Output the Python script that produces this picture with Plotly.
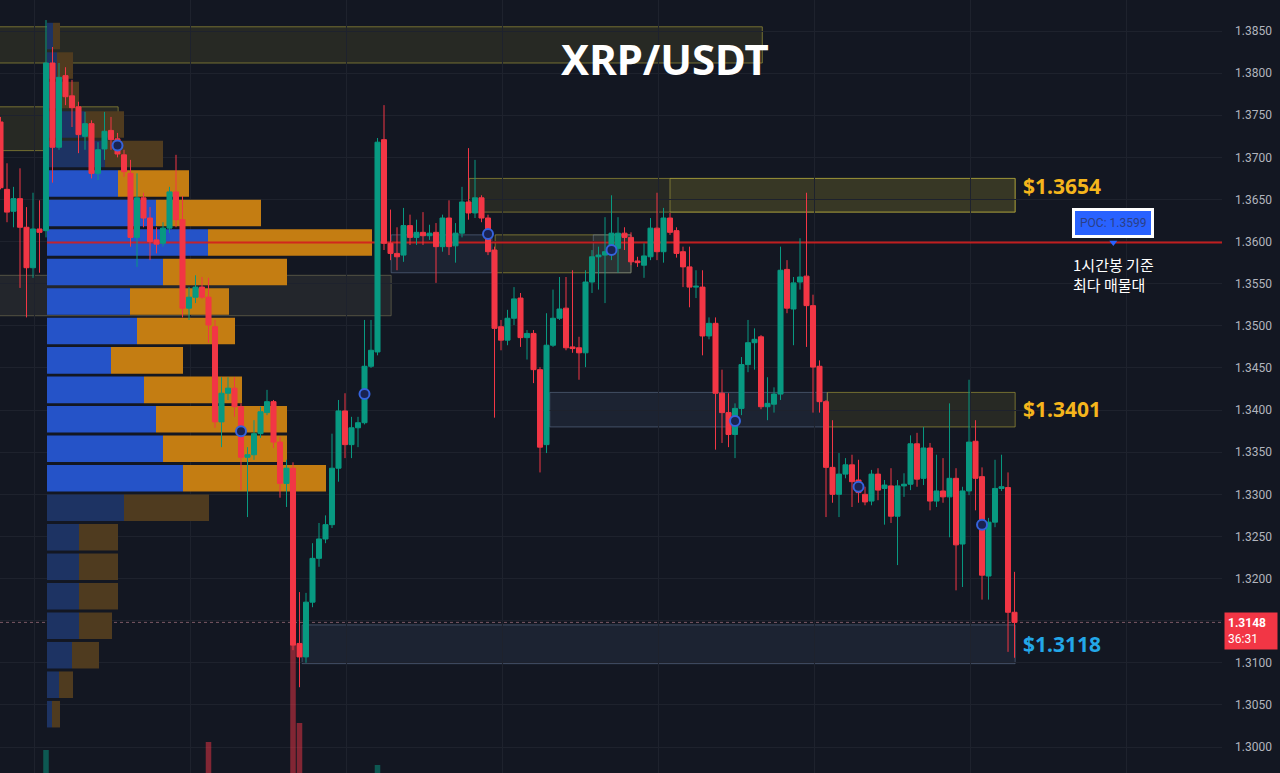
import plotly.graph_objects as go

# ---------------- data ----------------
opens = [1.3742, 1.3662, 1.3636, 1.3651, 1.3617, 1.3569, 1.3615, 1.3613, 1.3812, 1.3712,
         1.3797, 1.3773, 1.3760, 1.3725, 1.3740, 1.3681, 1.3710, 1.3732, 1.3722, 1.3703,
         1.3681, 1.3605, 1.3652, 1.3628, 1.3602, 1.3598, 1.3616, 1.3659, 1.3626, 1.3521,
         1.3534, 1.3546, 1.3534, 1.3499, 1.3386, 1.3420, 1.3426, 1.3404, 1.3344, 1.3347,
         1.3372, 1.3397, 1.3410, 1.3362, 1.3313, 1.3331, 1.3123, 1.3107, 1.3172, 1.3224,
         1.3247, 1.3264, 1.3331, 1.3399, 1.3359, 1.3379, 1.3385, 1.3452, 1.3469, 1.3721,
         1.3598, 1.3586, 1.3584, 1.3619, 1.3605, 1.3611, 1.3607, 1.3611, 1.3594, 1.3628,
         1.3595, 1.3610, 1.3647, 1.3634, 1.3652, 1.3628, 1.3590, 1.3499, 1.3483, 1.3509,
         1.3533, 1.3486, 1.3491, 1.3448, 1.3359, 1.3477, 1.3509, 1.3521, 1.3475, 1.3474,
         1.3468, 1.3552, 1.3582, 1.3584, 1.3590, 1.3592, 1.3610, 1.3605, 1.3577, 1.3572,
         1.3582, 1.3616, 1.3588, 1.3628, 1.3613, 1.3588, 1.3570, 1.3546, 1.3546, 1.3488,
         1.3503, 1.3420, 1.3397, 1.3371, 1.3402, 1.3454, 1.3480, 1.3487, 1.3404, 1.3407,
         1.3419, 1.3567, 1.3520, 1.3552, 1.3559, 1.3524, 1.3452, 1.3410, 1.3332, 1.3300,
         1.3324, 1.3335, 1.3317, 1.3300, 1.3292, 1.3324, 1.3307, 1.3310, 1.3274, 1.3310,
         1.3312, 1.3360, 1.3319, 1.3355, 1.3292, 1.3304, 1.3297, 1.3319, 1.3241, 1.3304,
         1.3363, 1.3321, 1.3203, 1.3267, 1.3307, 1.3308, 1.3160]
highs = [1.3748, 1.3693, 1.3665, 1.3687, 1.3641, 1.3658, 1.3649, 1.3863, 1.3831, 1.3812,
         1.3807, 1.3792, 1.3766, 1.3754, 1.3744, 1.3718, 1.3754, 1.3748, 1.3729, 1.3709,
         1.3697, 1.3681, 1.3658, 1.3641, 1.3617, 1.3623, 1.3665, 1.3703, 1.3654, 1.3546,
         1.3560, 1.3558, 1.3557, 1.3507, 1.3439, 1.3439, 1.3439, 1.3408, 1.3356, 1.3388,
         1.3404, 1.3424, 1.3412, 1.3368, 1.3341, 1.3338, 1.3184, 1.3183, 1.3242, 1.3266,
         1.3275, 1.3372, 1.3412, 1.3420, 1.3392, 1.3392, 1.3507, 1.3507, 1.3723, 1.3762,
         1.3638, 1.3617, 1.3640, 1.3632, 1.3626, 1.3635, 1.3620, 1.3622, 1.3632, 1.3649,
         1.3622, 1.3665, 1.3711, 1.3697, 1.3655, 1.3632, 1.3594, 1.3507, 1.3519, 1.3546,
         1.3539, 1.3495, 1.3495, 1.3451, 1.3515, 1.3543, 1.3558, 1.3558, 1.3566, 1.3487,
         1.3566, 1.3590, 1.3594, 1.3629, 1.3655, 1.3629, 1.3617, 1.3611, 1.3582, 1.3598,
         1.3628, 1.3658, 1.3640, 1.3634, 1.3617, 1.3594, 1.3594, 1.3566, 1.3566, 1.3510,
         1.3510, 1.3448, 1.3420, 1.3408, 1.3463, 1.3507, 1.3497, 1.3489, 1.3439, 1.3427,
         1.3594, 1.3578, 1.3558, 1.3604, 1.3658, 1.3537, 1.3459, 1.3412, 1.3388, 1.3349,
         1.3343, 1.3347, 1.3341, 1.3309, 1.3329, 1.3331, 1.3317, 1.3331, 1.3317, 1.3325,
         1.3370, 1.3373, 1.3380, 1.3361, 1.3347, 1.3343, 1.3408, 1.3331, 1.3309, 1.3436,
         1.3388, 1.3332, 1.3272, 1.3341, 1.3347, 1.3326, 1.3208]
lows = [1.3662, 1.3623, 1.3617, 1.3545, 1.3510, 1.3557, 1.3563, 1.3605, 1.3670, 1.3709,
        1.3762, 1.3736, 1.3705, 1.3709, 1.3675, 1.3673, 1.3697, 1.3709, 1.3700, 1.3677,
        1.3594, 1.3570, 1.3617, 1.3578, 1.3586, 1.3594, 1.3610, 1.3617, 1.3510, 1.3507,
        1.3527, 1.3532, 1.3480, 1.3379, 1.3356, 1.3412, 1.3392, 1.3305, 1.3273, 1.3341,
        1.3367, 1.3394, 1.3355, 1.3296, 1.3285, 1.3115, 1.3071, 1.3100, 1.3166, 1.3214,
        1.3242, 1.3260, 1.3315, 1.3343, 1.3343, 1.3356, 1.3383, 1.3450, 1.3465, 1.3590,
        1.3578, 1.3566, 1.3576, 1.3596, 1.3596, 1.3596, 1.3602, 1.3551, 1.3588, 1.3584,
        1.3575, 1.3605, 1.3626, 1.3628, 1.3623, 1.3584, 1.3391, 1.3471, 1.3477, 1.3501,
        1.3475, 1.3460, 1.3432, 1.3326, 1.3349, 1.3475, 1.3507, 1.3471, 1.3468, 1.3436,
        1.3451, 1.3539, 1.3543, 1.3527, 1.3578, 1.3563, 1.3590, 1.3572, 1.3570, 1.3557,
        1.3578, 1.3578, 1.3575, 1.3608, 1.3581, 1.3546, 1.3522, 1.3533, 1.3465, 1.3484,
        1.3353, 1.3361, 1.3356, 1.3343, 1.3394, 1.3445, 1.3448, 1.3401, 1.3388, 1.3397,
        1.3412, 1.3515, 1.3477, 1.3543, 1.3475, 1.3397, 1.3397, 1.3273, 1.3290, 1.3273,
        1.3319, 1.3285, 1.3290, 1.3287, 1.3287, 1.3293, 1.3264, 1.3266, 1.3216, 1.3297,
        1.3305, 1.3309, 1.3311, 1.3281, 1.3285, 1.3290, 1.3249, 1.3186, 1.3190, 1.3299,
        1.3281, 1.3175, 1.3175, 1.3261, 1.3304, 1.3113, 1.3106]
closes = [1.3664, 1.3635, 1.3651, 1.3617, 1.3569, 1.3615, 1.3611, 1.3812, 1.3712, 1.3795,
          1.3772, 1.3759, 1.3727, 1.3740, 1.3681, 1.3709, 1.3731, 1.3721, 1.3704, 1.3683,
          1.3605, 1.3652, 1.3628, 1.3600, 1.3597, 1.3616, 1.3659, 1.3626, 1.3521, 1.3534,
          1.3546, 1.3534, 1.3501, 1.3386, 1.3420, 1.3426, 1.3404, 1.3344, 1.3347, 1.3372,
          1.3398, 1.3410, 1.3362, 1.3313, 1.3331, 1.3121, 1.3107, 1.3172, 1.3224, 1.3247,
          1.3264, 1.3331, 1.3399, 1.3359, 1.3379, 1.3385, 1.3452, 1.3471, 1.3718, 1.3598,
          1.3586, 1.3582, 1.3619, 1.3605, 1.3611, 1.3607, 1.3610, 1.3594, 1.3628, 1.3594,
          1.3610, 1.3647, 1.3634, 1.3652, 1.3628, 1.3588, 1.3497, 1.3483, 1.3509, 1.3532,
          1.3486, 1.3491, 1.3448, 1.3356, 1.3477, 1.3509, 1.3520, 1.3474, 1.3473, 1.3468,
          1.3552, 1.3582, 1.3584, 1.3588, 1.3610, 1.3610, 1.3605, 1.3576, 1.3575, 1.3583,
          1.3616, 1.3588, 1.3628, 1.3611, 1.3586, 1.3570, 1.3546, 1.3547, 1.3488, 1.3503,
          1.3420, 1.3397, 1.3371, 1.3402, 1.3454, 1.3480, 1.3484, 1.3404, 1.3408, 1.3419,
          1.3566, 1.3521, 1.3551, 1.3558, 1.3524, 1.3451, 1.3410, 1.3332, 1.3300, 1.3324,
          1.3335, 1.3315, 1.3302, 1.3291, 1.3324, 1.3305, 1.3311, 1.3274, 1.3310, 1.3312,
          1.3360, 1.3318, 1.3355, 1.3292, 1.3304, 1.3297, 1.3319, 1.3240, 1.3304, 1.3362,
          1.3319, 1.3204, 1.3267, 1.3307, 1.3309, 1.3160, 1.3148]
candle_idx = list(range(len(opens)))

# visible volume bars (millions)
vol_idx = [7, 32, 45, 46, 58]
vol_val = [2.3, 3.1, 12.8, 5.0, 0.8]

# volume profile (row centre price, buy volume, sell volume)
profile_price = [1.3844, 1.3809, 1.3774, 1.3739, 1.3704, 1.3669, 1.3634, 1.3599,
                 1.3564, 1.3529, 1.3494, 1.3459, 1.3424, 1.3389, 1.3354, 1.3319,
                 1.3284, 1.3249, 1.3214, 1.3179, 1.3144, 1.3109, 1.3074, 1.3039]
profile_buy = [6, 10, 15, 38, 58, 71, 109, 161, 116, 83, 90, 64,
               97, 109, 116, 136, 77, 32, 32, 32, 32, 25, 12, 5]
profile_sell = [7, 16, 17, 39, 58, 71, 105, 164, 124, 99, 98, 72,
                98, 131, 124, 143, 85, 39, 39, 39, 33, 27, 14, 8]
profile_row_height = 0.0035
va_high = 1.3686
va_low = 1.3301
poc_price = 1.3599

# zones (candle index span, price span, kind)
zone_x0 = [-1, -1, -1, 60.1, 76.1, 91.2, 72.1, 103.0, 84.5, 127.2, 46.4]
zone_x1 = [117.2, 18.1, 60.1, 75.6, 97.0, 97.0, 156.1, 156.1, 127.2, 156.1, 156.1]
zone_top = [1.3855, 1.3760, 1.3560, 1.3608, 1.3608, 1.3608, 1.3675, 1.3675, 1.3421, 1.3421, 1.3145]
zone_bot = [1.3812, 1.3708, 1.3512, 1.3563, 1.3563, 1.3563, 1.3635, 1.3635, 1.3380, 1.3380, 1.3099]
zone_kind = ["supply", "supply", "neutral", "demand", "supply", "demand",
             "supply", "supply", "demand", "supply", "demand"]

level_text = ["$1.3654", "$1.3401", "$1.3118"]
level_price = [1.3654, 1.3401, 1.3118]
level_color = ["#f5b51c", "#f5b51c", "#23a7e8"]
level_yshift = [10, 0, 4]

marker_idx = [18, 37, 56, 75, 94, 113, 132, 151]
marker_price = [1.3714, 1.3375, 1.3419, 1.3609, 1.3590, 1.3387, 1.3309, 1.3264]

y_ticks = [1.3000, 1.3050, 1.3100, 1.3150, 1.3200, 1.3250, 1.3300, 1.3350, 1.3400,
           1.3450, 1.3500, 1.3550, 1.3600, 1.3650, 1.3700, 1.3750, 1.3800, 1.3850]
last_price = 1.3148
countdown = "36:31"

# ---------------- style ----------------
BG = "#131722"
GREEN = "#089981"
RED = "#f23645"
GRID = "#1e222d"
PROFILE_X_RANGE = [-47, 1175]
CANDLE_X_RANGE = [-0.077, 187.92]
Y_RANGE = [1.29692, 1.38868]

zone_style = {
    "supply": dict(fill="rgba(120,115,45,0.20)", line="rgba(175,165,60,0.60)"),
    "demand": dict(fill="rgba(70,95,130,0.18)", line="rgba(110,130,160,0.50)"),
    "neutral": dict(fill="rgba(110,110,95,0.18)", line="rgba(150,145,100,0.45)"),
}

fig = go.Figure()

# volume profile on main subplot (x, y)
in_va = [va_low <= p <= va_high for p in profile_price]
buy_colors = ["#2553c8" if v else "#1d3363" for v in in_va]
sell_colors = ["#c47d12" if v else "#4f3b1f" for v in in_va]
fig.add_trace(go.Bar(
    y=profile_price, x=profile_buy, base=[0] * len(profile_buy), orientation="h",
    width=profile_row_height * 0.9, marker=dict(color=buy_colors, line=dict(width=0)),
    xaxis="x", yaxis="y", hoverinfo="skip", showlegend=False))
fig.add_trace(go.Bar(
    y=profile_price, x=profile_sell, base=profile_buy, orientation="h",
    width=profile_row_height * 0.9, marker=dict(color=sell_colors, line=dict(width=0)),
    xaxis="x", yaxis="y", hoverinfo="skip", showlegend=False))
# POC line
fig.add_trace(go.Scatter(
    x=[0, PROFILE_X_RANGE[1]], y=[poc_price, poc_price], mode="lines",
    line=dict(color="#d31f1f", width=2), opacity=0.9,
    xaxis="x", yaxis="y", hoverinfo="skip", showlegend=False))

# volume bars
vol_colors = ["rgba(8,153,129,0.5)" if closes[i] >= opens[i] else "rgba(242,54,69,0.5)" for i in vol_idx]
fig.add_trace(go.Bar(
    x=vol_idx, y=vol_val, marker=dict(color=vol_colors, line=dict(width=0)), width=0.85,
    xaxis="x2", yaxis="y2", hoverinfo="skip", showlegend=False))

# candles
fig.add_trace(go.Candlestick(
    x=candle_idx, open=opens, high=highs, low=lows, close=closes,
    increasing=dict(line=dict(color=GREEN, width=1), fillcolor=GREEN),
    decreasing=dict(line=dict(color=RED, width=1), fillcolor=RED),
    whiskerwidth=0, xaxis="x2", yaxis="y", hoverinfo="skip", showlegend=False))

# markers
fig.add_trace(go.Scatter(
    x=marker_idx, y=marker_price, mode="markers",
    marker=dict(symbol="circle", size=10, color="#1a2350", line=dict(color="#3563dd", width=2)),
    xaxis="x2", yaxis="y", hoverinfo="skip", showlegend=False))

# POC label pointer
poc_label_idx = candle_idx[-1] + 15.2
fig.add_trace(go.Scatter(
    x=[poc_label_idx], y=[poc_price], mode="markers",
    marker=dict(symbol="triangle-down", size=7, color="#2962ff"),
    xaxis="x2", yaxis="y", hoverinfo="skip", showlegend=False))

# zones
for x0, x1, t, b, k in zip(zone_x0, zone_x1, zone_top, zone_bot, zone_kind):
    st = zone_style[k]
    fig.add_shape(type="rect", xref="x2", yref="y", x0=x0, x1=x1, y0=b, y1=t,
                  fillcolor=st["fill"], line=dict(color=st["line"], width=1), layer="below")

# current price dotted line
fig.add_shape(type="line", xref="paper", yref="y", x0=0, x1=1, y0=last_price, y1=last_price,
              line=dict(color="#7d5b66", width=1, dash="dot"), layer="below")

# level labels
for txt, p, col, ys in zip(level_text, level_price, level_color, level_yshift):
    fig.add_annotation(x=candle_idx[-1], y=p, xref="x2", yref="y", text=f"<b>{txt}</b>",
                       showarrow=False, xanchor="left", yanchor="middle", xshift=6,
                       yshift=ys, font=dict(family="Noto Sans", size=21, color=col))

# title
fig.add_annotation(x=0.5442, y=0.9237, xref="paper", yref="paper", text="<b>XRP/USDT</b>",
                   showarrow=False, xanchor="center", yanchor="middle",
                   font=dict(family="Noto Sans", size=42, color="#ffffff"))

# POC label
fig.add_annotation(x=poc_label_idx, y=poc_price, xref="x2", yref="y",
                   text=f"POC: {poc_price:.4f}", showarrow=False,
                   xanchor="center", yanchor="bottom", yshift=4,
                   bgcolor="#2962ff", bordercolor="#ffffff", borderwidth=3, borderpad=5,
                   font=dict(family="Roboto", size=12, color="#2b3f86"))
fig.add_annotation(x=poc_label_idx, y=poc_price, xref="x2", yref="y",
                   text="1시간봉 기준<br>최다 매물대", showarrow=False, align="left",
                   xanchor="center", yanchor="top", yshift=-10,
                   font=dict(family="Noto Sans CJK KR", size=15, color="#ffffff"))

# last price label (covers the 1.3150 tick, as in the original)
fig.add_annotation(x=1, y=last_price, xref="paper", yref="y",
                   text=f"<b>{last_price:.4f}</b><br>{countdown}", showarrow=False,
                   xanchor="left", yanchor="middle", xshift=2, yshift=-9, align="left",
                   bgcolor=RED, borderpad=3, width=46,
                   font=dict(family="Roboto", size=12, color="#ffffff"))

hidden_tick = 1.3150
fig.update_layout(
    width=1280, height=773,
    margin=dict(l=0, r=58, t=0, b=0),
    paper_bgcolor=BG, plot_bgcolor=BG,
    barmode="overlay", showlegend=False,
    boxgap=0.12, boxgroupgap=0.12,
    xaxis=dict(range=PROFILE_X_RANGE, visible=False, fixedrange=True),
    xaxis2=dict(range=CANDLE_X_RANGE, overlaying="x", showticklabels=False,
                showgrid=True, gridcolor=GRID, gridwidth=1, tick0=5.3, dtick=24,
                zeroline=False, rangeslider=dict(visible=False)),
    yaxis=dict(range=Y_RANGE, side="right", tickvals=y_ticks,
               ticktext=["" if abs(v - hidden_tick) < 1e-9 else f"{v:.4f}" for v in y_ticks],
               showgrid=True, gridcolor=GRID, gridwidth=1, zeroline=False,
               ticks="", ticklabelstandoff=12,
               tickfont=dict(family="Roboto", size=12, color="#b2b5be")),
    yaxis2=dict(range=[0, 77.3], overlaying="y", visible=False),
)

fig.write_html("out.html", config={"displayModeBar": False},
               post_script="document.body.style.margin='0';")
